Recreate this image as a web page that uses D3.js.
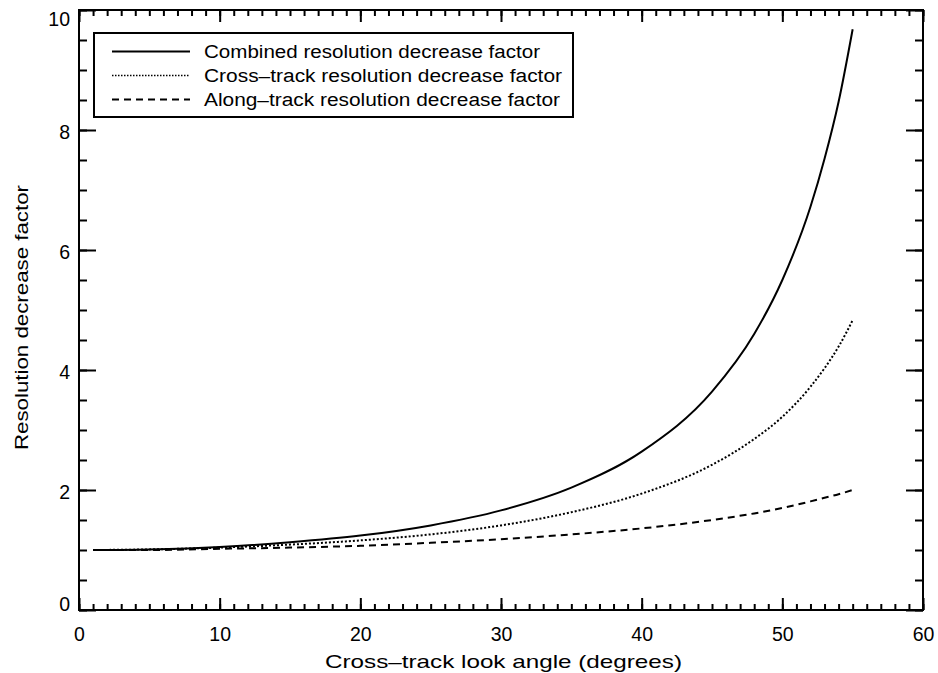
<!DOCTYPE html>
<html>
<head>
<meta charset="utf-8">
<script src="https://cdn.jsdelivr.net/npm/d3@7"></script>
<style>
  body { margin: 0; background: #fff; }
  text { font-family: "Liberation Sans", "DejaVu Sans", sans-serif; fill: #000; }
</style>
</head>
<body>
<div id="chart"></div>
<script>
// look angle (degrees) and the three factors
const angle = [1, 5, 10, 15, 20, 25, 30, 35, 40, 45, 48, 50, 52, 53, 54, 55]
const combined = [1.00, 1.01, 1.05, 1.13, 1.24, 1.41, 1.66, 2.04, 2.64, 3.64, 4.60, 5.50, 6.72, 7.52, 8.47, 9.68]
const crossTrack = [1.00, 1.01, 1.04, 1.09, 1.16, 1.26, 1.41, 1.63, 1.94, 2.42, 2.85, 3.22, 3.72, 4.03, 4.39, 4.83]
const alongTrack = [1.00, 1.00, 1.02, 1.04, 1.07, 1.12, 1.18, 1.26, 1.36, 1.50, 1.61, 1.70, 1.81, 1.87, 1.93, 2.00]

const seriesNames = [
  "Combined resolution decrease factor",
  "Cross\u2013track resolution decrease factor",
  "Along\u2013track resolution decrease factor"
]
const xTicks = [0, 10, 20, 30, 40, 50, 60]
const yTicks = [0, 2, 4, 6, 8, 10]

const W = 938, H = 673
const margin = {top: 10, right: 15, bottom: 63, left: 79}
const width = W - margin.left - margin.right,
      height = H - margin.top - margin.bottom

const svg = d3.select("#chart").append("svg")
    .attr("width", W)
    .attr("height", H)

const g = svg.append("g")
    .attr("transform", "translate(" + margin.left + "," + margin.top + ")")

const x = d3.scaleLinear().domain([0, 60]).range([0, width])
const y = d3.scaleLinear().domain([0, 10]).range([height, 0])

const xMinor = d3.range(0, 61, 1)
const yMinor = d3.range(0, 10.01, 0.5)

function styleAxis(sel) {
  sel.select(".domain").remove()
  sel.selectAll("line").attr("stroke", "#000").attr("stroke-width", 2)
}

// bottom: ticks pointing up, labels below
g.append("g").attr("transform", "translate(0," + height + ")")
    .call(d3.axisBottom(x).tickValues(xMinor).tickSizeInner(-6).tickFormat(""))
    .call(styleAxis)
g.append("g").attr("transform", "translate(0," + height + ")")
    .call(d3.axisBottom(x).tickValues(xTicks).tickSizeInner(-12).tickPadding(17).tickFormat(d3.format("d")))
    .call(styleAxis)
    .selectAll("text").attr("font-size", "19.5px").attr("font-family", "Liberation Sans, sans-serif")

// top: ticks pointing down, no labels
g.append("g")
    .call(d3.axisTop(x).tickValues(xMinor).tickSizeInner(-6).tickFormat(""))
    .call(styleAxis)
g.append("g")
    .call(d3.axisTop(x).tickValues(xTicks).tickSizeInner(-12).tickFormat(""))
    .call(styleAxis)

// left
g.append("g")
    .call(d3.axisLeft(y).tickValues(yMinor).tickSizeInner(-8).tickFormat(""))
    .call(styleAxis)
const yAx = g.append("g")
    .call(d3.axisLeft(y).tickValues(yTicks).tickSizeInner(-17).tickPadding(9).tickFormat(d3.format("d")))
    .call(styleAxis)
yAx.selectAll("text")
    .attr("font-size", "19.5px")
    .attr("font-family", "Liberation Sans, sans-serif")
    .attr("dy", d => d === 10 ? "0.77em" : d === 0 ? "0.05em" : "0.42em")

// right
g.append("g").attr("transform", "translate(" + width + ",0)")
    .call(d3.axisRight(y).tickValues(yMinor).tickSizeInner(-8).tickFormat(""))
    .call(styleAxis)
g.append("g").attr("transform", "translate(" + width + ",0)")
    .call(d3.axisRight(y).tickValues(yTicks).tickSizeInner(-17).tickFormat(""))
    .call(styleAxis)

// frame
g.append("rect")
    .attr("width", width).attr("height", height)
    .attr("fill", "none").attr("stroke", "#000").attr("stroke-width", 2)

const dashes = [null, "2,2", "7,5"]
const allSeries = [combined, crossTrack, alongTrack]

const line = d3.line()
    .x((d, i) => x(angle[i]))
    .y(d => y(d))
    .curve(d3.curveMonotoneX)

allSeries.forEach((s, k) => {
  g.append("path")
      .datum(s)
      .attr("fill", "none")
      .attr("stroke", "#000")
      .attr("stroke-width", 2)
      .attr("stroke-dasharray", dashes[k])
      .attr("d", line)
})

// legend
const legend = svg.append("g")
legend.append("rect")
    .attr("x", 94).attr("y", 33).attr("width", 479).attr("height", 84)
    .attr("fill", "#fff").attr("stroke", "#000").attr("stroke-width", 2)

const rowY = [51.5, 75.5, 99.5]
const textLen = [336, 358, 356]
seriesNames.forEach((name, k) => {
  legend.append("line")
      .attr("x1", 112).attr("x2", 190)
      .attr("y1", rowY[k]).attr("y2", rowY[k])
      .attr("stroke", "#000")
      .attr("stroke-width", k === 1 ? 1.5 : 2)
      .attr("stroke-dasharray", k === 1 ? "1.5,1.5" : dashes[k])
  legend.append("text")
      .attr("x", 204).attr("y", rowY[k] + 6.5)
      .attr("font-size", "18px")
      .attr("textLength", textLen[k])
      .attr("lengthAdjust", "spacingAndGlyphs")
      .text(name)
})

// axis titles
svg.append("text")
    .attr("x", 325).attr("y", 668)
    .attr("font-size", "19px")
    .attr("textLength", 357)
    .attr("lengthAdjust", "spacingAndGlyphs")
    .text("Cross\u2013track look angle (degrees)")

svg.append("text")
    .attr("transform", "translate(28,450) rotate(-90)")
    .attr("font-size", "19px")
    .attr("textLength", 265)
    .attr("lengthAdjust", "spacingAndGlyphs")
    .text("Resolution decrease factor")
</script>
</body>
</html>
